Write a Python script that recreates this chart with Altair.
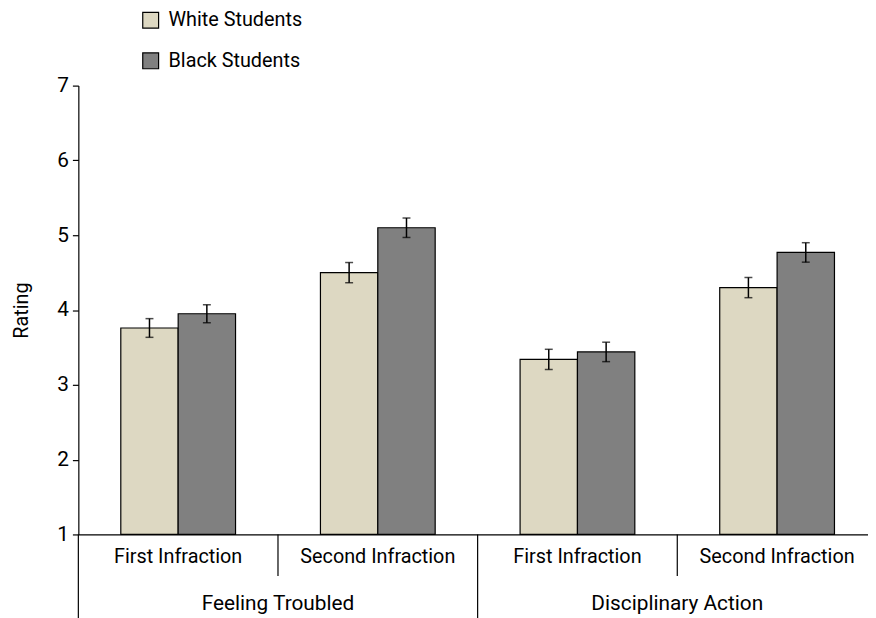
import altair as alt
import pandas as pd

measures = ["Feeling Troubled", "Feeling Troubled", "Disciplinary Action", "Disciplinary Action"]
infractions = ["First Infraction", "Second Infraction", "First Infraction", "Second Infraction"]
students = ["White Students", "Black Students"]
white_means = [3.76, 4.50, 3.34, 4.30]
white_err = [0.125, 0.135, 0.135, 0.135]
black_means = [3.95, 5.10, 3.44, 4.77]
black_err = [0.12, 0.13, 0.13, 0.13]
group_names = ["Feeling Troubled", "Disciplinary Action"]
y_ticks = [1, 2, 3, 4, 5, 6, 7]

cells = [m + "|" + i for m, i in zip(measures, infractions)]

rows = []
for k, c in enumerate(cells):
    for s, means, errs in [(students[0], white_means, white_err), (students[1], black_means, black_err)]:
        rows.append({"cell": c, "infraction": infractions[k], "student": s,
                     "mean": means[k], "lo": means[k] - errs[k], "hi": means[k] + errs[k]})
df = pd.DataFrame(rows)

cell_df = pd.DataFrame({"cell": cells, "infraction": infractions,
                        "major": [k % 2 == 0 for k in range(len(cells))]})
group_df = pd.DataFrame({"cell": [cells[1], cells[3]], "group": group_names})

FONT = "Roboto"
H = 453
W = 806

xscale = alt.Scale(domain=cells, paddingInner=0, paddingOuter=0)
xenc = alt.X("cell:N", scale=xscale, axis=alt.Axis(title=None, labels=False, ticks=False,
                                                    domainColor="black", domainWidth=1.2))
xoff = alt.XOffset("student:N", scale=alt.Scale(domain=students, paddingInner=0, paddingOuter=0.74))
yscale = alt.Scale(domain=[1, 7], nice=False, zero=False)

base = alt.Chart(df)

bars = base.mark_bar(stroke="black", strokeWidth=1.2).encode(
    x=xenc,
    xOffset=xoff,
    y=alt.Y("mean:Q", scale=yscale,
            axis=alt.Axis(values=y_ticks, format="d", title="Rating", grid=False, tickSize=6,
                          tickColor="black", domainColor="black", domainWidth=1.2, tickWidth=1.2,
                          labelFontSize=21, labelPadding=4, labelColor="black", labelFont=FONT,
                          titleFont=FONT, titleFontSize=20, titleFontWeight="normal",
                          titleColor="black", titlePadding=26)),
    y2=alt.datum(1),
    color=alt.Color("student:N", scale=alt.Scale(domain=students, range=["#ddd8c2", "#808080"]),
                    legend=alt.Legend(title=None, orient="none", legendX=63, legendY=-76,
                                      symbolType="square", symbolSize=256,
                                      symbolStrokeColor="black", symbolStrokeWidth=1.2,
                                      labelFontSize=20, labelFont=FONT, labelColor="black",
                                      rowPadding=19, labelOffset=8)),
)

err = base.mark_rule(color="black", strokeWidth=1.5).encode(
    x=alt.X("cell:N", scale=xscale), xOffset=xoff, y="lo:Q", y2="hi:Q")
cap_lo = base.mark_tick(color="black", thickness=1.5, size=8, orient="horizontal").encode(
    x=alt.X("cell:N", scale=xscale), xOffset=xoff, y="lo:Q")
cap_hi = base.mark_tick(color="black", thickness=1.5, size=8, orient="horizontal").encode(
    x=alt.X("cell:N", scale=xscale), xOffset=xoff, y="hi:Q")

cbase = alt.Chart(cell_df)
sep_minor = cbase.transform_filter("!datum.major").mark_rule(color="black", strokeWidth=1.2).encode(
    x=alt.X("cell:N", scale=xscale, bandPosition=0), y=alt.value(H), y2=alt.value(H + 42))
sep_major = cbase.transform_filter("datum.major").mark_rule(color="black", strokeWidth=1.2).encode(
    x=alt.X("cell:N", scale=xscale, bandPosition=0), y=alt.value(H), y2=alt.value(H + 90))
sub_labels = cbase.mark_text(font=FONT, fontSize=20, color="black", baseline="alphabetic").encode(
    x=alt.X("cell:N", scale=xscale), y=alt.value(H + 29), text="infraction:N")

group_labels = alt.Chart(group_df).mark_text(font=FONT, fontSize=21, color="black",
                                             baseline="alphabetic").encode(
    x=alt.X("cell:N", scale=xscale, bandPosition=0), y=alt.value(H + 76), text="group:N")

chart = alt.layer(bars, err, cap_lo, cap_hi, sep_minor, sep_major, sub_labels, group_labels).properties(
    width=W, height=H,
    autosize=alt.AutoSizeParams(type="none"),
    padding={"left": 71, "top": 75.5, "right": -9, "bottom": 81.5},
).configure_view(stroke=None)

chart.save("out.html", embed_options={"renderer": "svg", "actions": False})
